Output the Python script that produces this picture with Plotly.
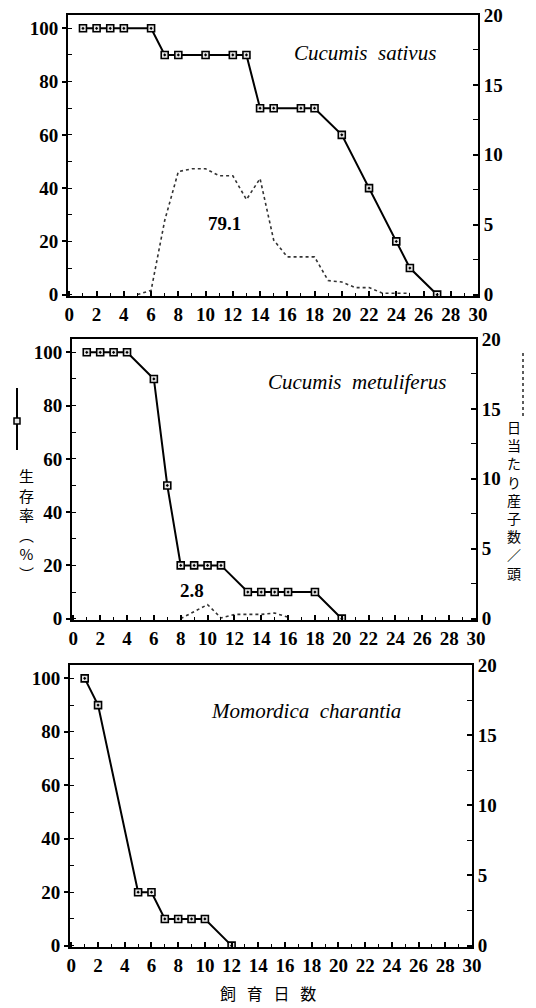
import plotly.graph_objects as go

W, H = 536, 1008

# ---- data ----
days_sativus = [1, 2, 3, 4, 6, 7, 8, 10, 12, 13, 14, 15, 17, 18, 20, 22, 24, 25, 27]
surv_sativus = [100, 100, 100, 100, 100, 90, 90, 90, 90, 90, 70, 70, 70, 70, 60, 40, 20, 10, 0]
off_days_sativus = [5, 6, 7, 8, 9, 10, 11, 12, 13, 14, 15, 16, 17, 18, 19, 20, 21, 22, 23, 24, 25]
off_sativus = [0, 0.3, 5.3, 8.8, 9.0, 9.0, 8.5, 8.5, 6.8, 8.3, 3.9, 2.7, 2.7, 2.7, 1.0, 0.9, 0.5, 0.5, 0.1, 0.1, 0.1]

days_metul = [1, 2, 3, 4, 6, 7, 8, 9, 10, 11, 13, 14, 15, 16, 18, 20]
surv_metul = [100, 100, 100, 100, 90, 50, 20, 20, 20, 20, 10, 10, 10, 10, 10, 0]
off_days_metul = [8, 9, 10, 11, 12, 13, 14, 15, 16]
off_metul = [0, 0.5, 1.0, 0.05, 0.3, 0.3, 0.3, 0.4, 0.1]

days_momo = [1, 2, 5, 6, 7, 8, 9, 10, 12]
surv_momo = [100, 90, 20, 20, 10, 10, 10, 10, 0]

species = ["Cucumis sativus", "Cucumis metuliferus", "Momordica charantia"]
species_pos = [(21.7, 90.6), (21.2, 88.8), (17.6, 87.7)]
totals = ["79.1", "2.8"]
totals_pos = [(11.4, 26.6), (8.85, 10.5)]

x_ticks = list(range(0, 31, 2))
left_ticks = [0, 20, 40, 60, 80, 100]
right_ticks = [0, 5, 10, 15, 20]

# ---- helpers ----
def px(x):
    return x / W

def py(y):
    return 1 - y / H

panels = [
    dict(x0=68, x1=478, y0=15, y1=296),
    dict(x0=72, x1=476, y0=339, y1=620),
    dict(x0=70, x1=472, y0=665, y1=947),
]

TICKFONT = dict(family="Liberation Serif", size=19, color="black", weight="bold")

fig = go.Figure()

surv_sets = [(days_sativus, surv_sativus), (days_metul, surv_metul), (days_momo, surv_momo)]
off_sets = [(off_days_sativus, off_sativus), (off_days_metul, off_metul), ([None], [None])]

for i, p in enumerate(panels):
    n = i + 1
    xa = "x" if n == 1 else f"x{n}"
    ya = "y" if n == 1 else f"y{n}"
    yr = f"y{n + 3}"
    dx, dy = off_sets[i]
    fig.add_trace(go.Scatter(x=dx, y=dy, xaxis=xa, yaxis=yr, mode="lines",
                             line=dict(color="#333", width=1.6, dash="dot"),
                             showlegend=False, hoverinfo="skip"))
    sx, sy = surv_sets[i]
    fig.add_trace(go.Scatter(x=sx, y=sy, xaxis=xa, yaxis=ya, mode="lines+markers",
                             line=dict(color="black", width=2),
                             marker=dict(symbol="square-dot", size=7, color="#e6e6e6",
                                         line=dict(color="black", width=1.6)),
                             showlegend=False))

    xkey = "xaxis" if n == 1 else f"xaxis{n}"
    ykey = "yaxis" if n == 1 else f"yaxis{n}"
    yrkey = f"yaxis{n + 3}"
    fig.layout[xkey] = dict(
        domain=[px(p["x0"]), px(p["x1"])], anchor=ya, range=[-0.1, 30],
        tickvals=x_ticks, ticks="inside", ticklen=5, tickwidth=1.5, tickcolor="black",
        minor=dict(dtick=1, tick0=0, ticks="inside", ticklen=3, tickcolor="black", tickwidth=1.2),
        showline=True, linewidth=2, linecolor="black", mirror=True,
        showgrid=False, zeroline=False, tickfont=TICKFONT, fixedrange=True, automargin=False,
    )
    fig.layout[ykey] = dict(
        domain=[py(p["y1"]), py(p["y0"])], anchor=xa, range=[-0.5, 105],
        tickvals=left_ticks, ticks="outside", ticklen=4, tickwidth=1.5, tickcolor="black",
        minor=dict(dtick=10, tick0=0, ticks="inside", ticklen=4, tickcolor="black", tickwidth=1.2),
        showline=True, linewidth=2, linecolor="black",
        showgrid=False, zeroline=False, tickfont=TICKFONT, fixedrange=True, automargin=False,
    )
    fig.layout[yrkey] = dict(
        overlaying=ya, side="right", anchor=xa, range=[-0.1, 20],
        tickvals=right_ticks, ticks="inside", ticklen=5, tickwidth=1.5, tickcolor="black",
        minor=dict(dtick=2.5, tick0=0, ticks="inside", ticklen=5, tickcolor="black", tickwidth=1.2),
        showline=True, linewidth=2, linecolor="black",
        showgrid=False, zeroline=False, tickfont=TICKFONT, fixedrange=True, automargin=False,
    )

annotations = []
for i, name in enumerate(species):
    n = i + 1
    xa = "x" if n == 1 else f"x{n}"
    ya = "y" if n == 1 else f"y{n}"
    annotations.append(dict(x=species_pos[i][0], y=species_pos[i][1], xref=xa, yref=ya,
                            text=f"<i>{name.replace(' ', '&nbsp;&nbsp;')}</i>", showarrow=False,
                            font=dict(family="Liberation Serif", size=21, color="black")))
for i, t in enumerate(totals):
    n = i + 1
    xa = "x" if n == 1 else f"x{n}"
    ya = "y" if n == 1 else f"y{n}"
    annotations.append(dict(x=totals_pos[i][0], y=totals_pos[i][1], xref=xa, yref=ya,
                            text=t, showarrow=False,
                            font=dict(family="Liberation Serif", size=19, color="black", weight="bold")))

# axis titles (vertical Japanese)
annotations.append(dict(x=px(17), y=py(524), xref="paper", yref="paper",
                        text="<br>".join(["生", "存", "率", "︵", "%", "︶"]), showarrow=False,
                        font=dict(family="Noto Sans CJK JP", size=15, color="black")))
annotations.append(dict(x=px(523), y=py(500), xref="paper", yref="paper",
                        text="<br>".join(list("日当たり産子数") + ["／", "頭"]), showarrow=False,
                        font=dict(family="Noto Sans CJK JP", size=14, color="black")))
annotations.append(dict(x=px(268), y=py(995), yshift=-12, xref="paper", yref="paper",
                        text="飼&nbsp;&nbsp;&nbsp;育&nbsp;&nbsp;&nbsp;日&nbsp;&nbsp;&nbsp;数", showarrow=False,
                        font=dict(family="Noto Sans CJK JP", size=16, color="black")))

shapes = [
    dict(type="line", xref="paper", yref="paper", x0=px(17), x1=px(17), y0=py(388), y1=py(450),
         line=dict(color="black", width=2)),
    dict(type="rect", xref="paper", yref="paper", x0=px(14), x1=px(20), y0=py(424), y1=py(418),
         fillcolor="#e6e6e6", line=dict(color="black", width=1.5)),
    dict(type="line", xref="paper", yref="paper", x0=px(523), x1=px(523), y0=py(353), y1=py(418),
         line=dict(color="#333", width=1.6, dash="dot")),
]

fig.update_layout(
    width=W, height=H, margin=dict(l=0, r=0, t=0, b=0, autoexpand=False),
    paper_bgcolor="white", plot_bgcolor="white",
    annotations=annotations, shapes=shapes, showlegend=False,
)

fig.write_html("out.html", config={"displayModeBar": False},
               post_script="document.body.style.margin='0';document.body.style.overflow='hidden';")
